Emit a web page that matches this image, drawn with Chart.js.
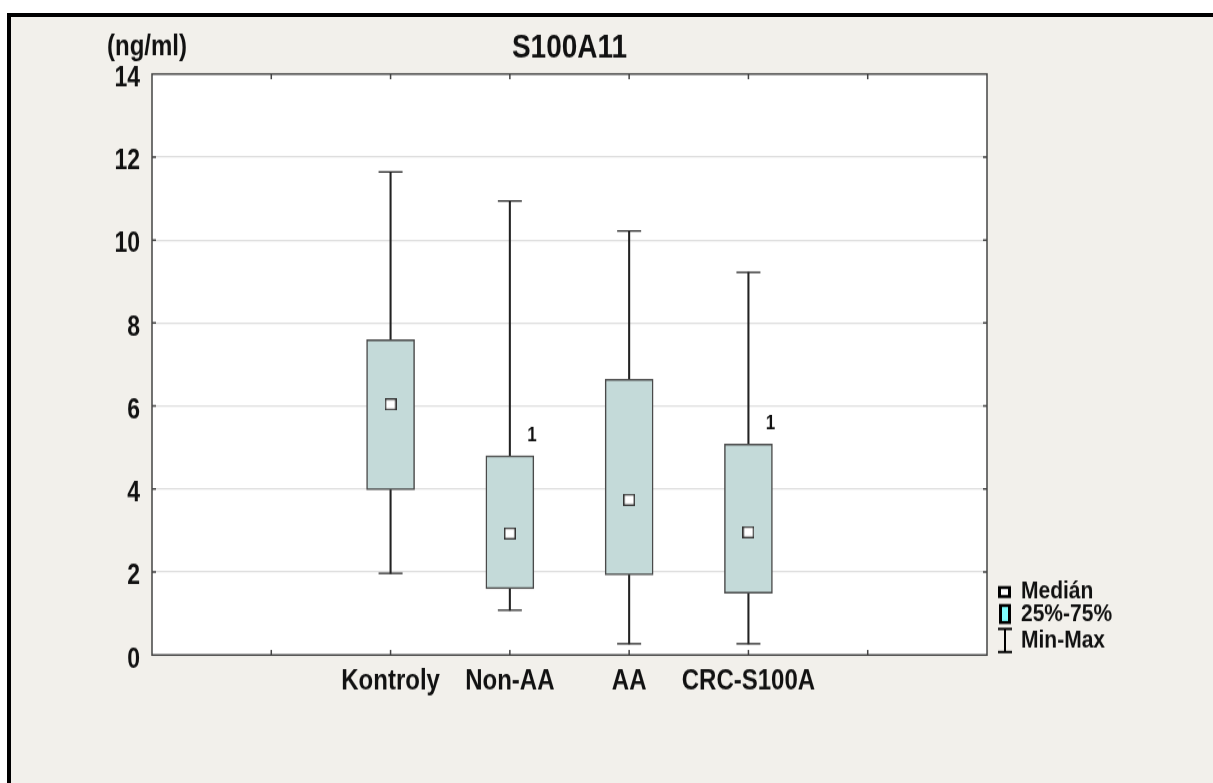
<!DOCTYPE html>
<html>
<head>
<meta charset="utf-8">
<script src="https://cdn.jsdelivr.net/npm/chart.js@4.4.1/dist/chart.umd.min.js"></script>
<style>
  html, body { margin: 0; padding: 0; background: #fff; width: 1213px; height: 783px; overflow: hidden; position: relative; }
  #frame { position: absolute; left: 7px; top: 13px; width: 1240px; height: 800px;
           background: #f2f0eb; border-left: 4px solid #000; border-top: 4px solid #000; }
  /* the drawing surface is rendered short and stretched tall, giving the tall narrow lettering */
  #c { position: absolute; left: 0; top: 0; width: 1180px !important; height: 783px !important; }
</style>
</head>
<body>
<div id="frame"></div>
<canvas id="c" width="1180" height="653" style="width:1180px;height:783px"></canvas>
<script>
// S100A11 concentration by group (ng/ml): min, quartiles, median, max
const categories    = ['Kontroly', 'Non-AA', 'AA', 'CRC-S100A'];
const minValues     = [1.97, 1.08, 0.27, 0.27];
const q1Values      = [3.98, 1.60, 1.93, 1.49];
const medianValues  = [6.04, 2.93, 3.74, 2.96];
const q3Values      = [7.60, 4.80, 6.64, 5.08];
const maxValues     = [11.64, 10.94, 10.22, 9.22];
const boxNotes      = ['', '1', '', '1'];
const legendLabels  = ['Medián', '25%-75%', 'Min-Max'];
const chartTitle    = 'S100A11';
const unitLabel     = '(ng/ml)';

const FONT = '"Liberation Sans", Arial, sans-serif';
const S = 783 / 653;           // vertical stretch of the canvas on screen
const Y = v => v / S;          // screen y -> canvas y
const SLOT0 = 2;               // first group sits on the 2nd of 6 inner slots
const xOf = i => i + SLOT0;

const boxData     = categories.map((c, i) => ({ x: xOf(i), y: [q1Values[i], q3Values[i]] }));
const whiskerData = categories.map((c, i) => ({ x: xOf(i), y: [minValues[i], maxValues[i]] }));
const capData     = categories.flatMap((c, i) => [{ x: xOf(i), y: minValues[i] }, { x: xOf(i), y: maxValues[i] }]);
const medianData  = categories.map((c, i) => ({ x: xOf(i), y: medianValues[i] }));

// median marker: small white square with dark outline
const medianMark = document.createElement('canvas');
medianMark.width = 12; medianMark.height = 10;
(() => {
  const g = medianMark.getContext('2d');
  g.fillStyle = '#333'; g.fillRect(0, 0, 12, 10);
  g.fillStyle = '#fff'; g.fillRect(1.5, 1.3, 9, 7.4);
})();

const decor = {
  id: 'decor',
  beforeDraw(chart) {
    const { ctx, chartArea: a } = chart;
    ctx.save();
    ctx.fillStyle = '#ffffff';
    ctx.fillRect(a.left, a.top, a.right - a.left, a.bottom - a.top);
    ctx.restore();
  },
  afterDraw(chart) {
    const { ctx, chartArea: a, scales } = chart;
    const xs = scales.x, ys = scales.y;
    ctx.save();
    // plot frame
    ctx.strokeStyle = '#444';
    ctx.lineWidth = 1.5;
    ctx.strokeRect(a.left, a.top, a.right - a.left, a.bottom - a.top);
    // inward tick marks
    ctx.beginPath();
    for (let v = 2; v < 14; v += 2) {
      const y = ys.getPixelForValue(v);
      ctx.moveTo(a.left, y); ctx.lineTo(a.left + 4, y);
      ctx.moveTo(a.right, y); ctx.lineTo(a.right - 4, y);
    }
    for (let v = 1; v <= 6; v++) {
      const x = xs.getPixelForValue(v);
      ctx.moveTo(x, a.bottom); ctx.lineTo(x, a.bottom - Y(5));
      ctx.moveTo(x, a.top); ctx.lineTo(x, a.top + Y(5));
    }
    ctx.stroke();

    // title and unit
    ctx.fillStyle = '#111';
    ctx.textBaseline = 'middle';
    ctx.textAlign = 'center';
    ctx.font = 'bold 28px ' + FONT;
    ctx.fillText(chartTitle, (a.left + a.right) / 2, Y(48));
    ctx.textAlign = 'left';
    ctx.font = 'bold 24px ' + FONT;
    ctx.fillText(unitLabel, 107, Y(47));

    // small count notes above boxes
    ctx.font = 'bold 17px ' + FONT;
    ctx.textAlign = 'center';
    boxNotes.forEach((t, i) => {
      if (!t) return;
      ctx.fillText(t, xs.getPixelForValue(xOf(i)) + 22, ys.getPixelForValue(q3Values[i]) - Y(20));
    });

    // legend
    const lx = a.right + 11, tx = a.right + 34;
    const rows = [590, 613, 640];
    ctx.font = 'bold 21px ' + FONT;
    ctx.textAlign = 'left';
    legendLabels.forEach((t, k) => ctx.fillText(t, tx, Y(rows[k] + 1)));
    // median symbol
    ctx.fillStyle = '#000';
    ctx.fillRect(lx, Y(586), 13, Y(598) - Y(586));
    ctx.fillStyle = '#fff';
    ctx.fillRect(lx + 3, Y(589), 7, Y(595) - Y(589));
    // quartile symbol
    ctx.fillStyle = '#000';
    ctx.fillRect(lx + 1, Y(604), 12, Y(624) - Y(604));
    ctx.fillStyle = '#80ffff';
    ctx.fillRect(lx + 4, Y(607), 6, Y(621) - Y(607));
    // min-max symbol
    ctx.strokeStyle = '#000';
    ctx.lineWidth = 2;
    ctx.beginPath();
    ctx.moveTo(lx, Y(629)); ctx.lineTo(lx + 14, Y(629));
    ctx.moveTo(lx + 7, Y(629)); ctx.lineTo(lx + 7, Y(652));
    ctx.moveTo(lx, Y(652)); ctx.lineTo(lx + 14, Y(652));
    ctx.stroke();
    ctx.restore();
  }
};

new Chart(document.getElementById('c'), {
  type: 'bar',
  data: {
    datasets: [
      { type: 'scatter', data: medianData, order: 0, pointStyle: medianMark, radius: 6, hoverRadius: 6 },
      { type: 'bar', data: boxData, order: 1, grouped: false, barThickness: 48, borderSkipped: false,
        backgroundColor: '#c4dad9', borderColor: '#4a4a4a', borderWidth: 1.5 },
      { type: 'scatter', data: capData, order: 2, pointStyle: 'line', radius: 12, hoverRadius: 12,
        borderColor: '#222', borderWidth: 1.3 },
      { type: 'bar', data: whiskerData, order: 3, grouped: false, barThickness: 1.4, borderWidth: 0,
        backgroundColor: '#222' }
    ]
  },
  options: {
    responsive: false,
    maintainAspectRatio: false,
    devicePixelRatio: 1,
    animation: false,
    events: [],
    layout: { padding: { left: 0, right: 193, top: Y(74), bottom: 653 - Y(655) - 60 } },
    plugins: { legend: { display: false }, tooltip: { enabled: false }, title: { display: false } },
    scales: {
      x: {
        type: 'linear', min: 0, max: 7, offset: false,
        afterFit: s => { s.height = 60; },
        grid: { display: false, drawTicks: false },
        border: { display: false },
        ticks: {
          stepSize: 1, autoSkip: false, maxRotation: 0, padding: 8, color: '#111',
          font: { family: FONT, size: 24, weight: 'bold' },
          callback: v => categories[v - SLOT0] || ''
        }
      },
      y: {
        min: 0, max: 14,
        afterFit: s => { s.width = 152; },
        grid: { color: '#dedede', lineWidth: 1.3, drawTicks: false },
        border: { display: false },
        ticks: {
          stepSize: 2, padding: 12, color: '#111', labelOffset: 4,
          font: { family: FONT, size: 23, weight: 'bold' }
        }
      }
    }
  },
  plugins: [decor]
});
</script>
</body>
</html>
